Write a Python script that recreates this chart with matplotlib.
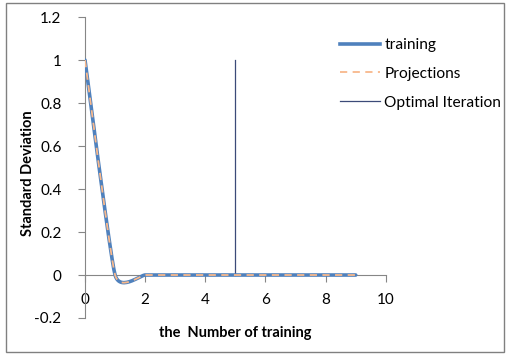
import numpy as np
import matplotlib.pyplot as plt
from matplotlib.patches import Rectangle
from matplotlib.lines import Line2D

# data
iterations = [0, 1, 2, 3, 4, 5, 6, 7, 8, 9]
training = [1.0, 0.0, 0.0, 0.0, 0.0, 0.0, 0.0, 0.0, 0.0, 0.0]
projections = [1.0, 0.0, 0.0, 0.0, 0.0, 0.0, 0.0, 0.0, 0.0, 0.0]
optimal_x = 5
optimal_y = [0, 1]

plt.rcParams['font.family'] = ['Lato', 'DejaVu Sans']


def smooth(xs, ys, f=0.08, n=30):
    # excel-like smoothed line: bezier segments between the data points
    xs = np.asarray(xs, float)
    ys = np.asarray(ys, float)
    px = np.concatenate([[xs[0]], xs, [xs[-1]]])
    py = np.concatenate([[ys[0]], ys, [ys[-1]]])
    outx, outy = [], []
    t = np.linspace(0, 1, n)
    for i in range(1, len(px) - 2):
        p0 = np.array([px[i], py[i]])
        p3 = np.array([px[i + 1], py[i + 1]])
        p1 = p0 + f * (np.array([px[i + 1], py[i + 1]]) - np.array([px[i - 1], py[i - 1]]))
        p2 = p3 - f * (np.array([px[i + 2], py[i + 2]]) - np.array([px[i], py[i]]))
        b = ((1 - t) ** 3)[:, None] * p0 + (3 * (1 - t) ** 2 * t)[:, None] * p1 \
            + (3 * (1 - t) * t ** 2)[:, None] * p2 + (t ** 3)[:, None] * p3
        outx.extend(b[:, 0])
        outy.extend(b[:, 1])
    return outx, outy


fig = plt.figure(figsize=(5.09, 3.54), dpi=100)
ax = fig.add_axes([0.167, 0.1017, 0.591, 0.850])

tx, ty = smooth(iterations, training)
px_, py_ = smooth(iterations, projections)
ax.plot(tx, ty, color='#4F81BD', lw=2.6, solid_capstyle='round', zorder=3)
ax.plot(px_, py_, color='#F8B88B', lw=1.3, dashes=(4, 3), zorder=4)
ax.plot([optimal_x, optimal_x], optimal_y, color='#3C4A78', lw=0.9, zorder=2)

ax.set_xlim(0, 10)
ax.set_ylim(-0.2, 1.2)
ax.set_xticks([0, 2, 4, 6, 8, 10])
ax.set_yticks([-0.2, 0, 0.2, 0.4, 0.6, 0.8, 1, 1.2])
ax.set_yticklabels(['-0.2', '0', '0.2', '0.4', '0.6', '0.8', '1', '1.2'])
ax.set_xticklabels(['0', '2', '4', '6', '8', '10'])

for s in ['top', 'right']:
    ax.spines[s].set_visible(False)
ax.spines['bottom'].set_position(('data', 0))
ax.spines['left'].set_color('#868686')
ax.spines['bottom'].set_color('#868686')
ax.tick_params(axis='both', direction='out', length=5, color='#868686',
               labelsize=11, labelcolor='black')
ax.tick_params(axis='y', pad=12)
ax.tick_params(axis='x', pad=8)

ax.set_xlabel('the  Number of training', fontsize=10.5, fontweight='bold')
ax.xaxis.set_label_coords(0.5, -0.025)
ax.set_ylabel('Standard Deviation', fontsize=10.5, fontweight='bold')
ax.yaxis.set_label_coords(-0.165, 0.482)

handles = [Line2D([], [], color='#4F81BD', lw=2.6),
           Line2D([], [], color='#F8B88B', lw=1.3, dashes=(4, 3)),
           Line2D([], [], color='#3C4A78', lw=0.9)]
fig.legend(handles, ['training', 'Projections', 'Optimal Iteration'],
           loc='upper left', bbox_to_anchor=(326 / 509, 1 - 24 / 354),
           frameon=False, fontsize=11.2, handlelength=2.55, handletextpad=0.3,
           labelspacing=0.95)

fig.patches.append(Rectangle((6 / 509, 2 / 354), 498 / 509, 349 / 354,
                             transform=fig.transFigure, fill=False,
                             edgecolor='#808080', lw=1))

fig.savefig('out.png', dpi=100)
